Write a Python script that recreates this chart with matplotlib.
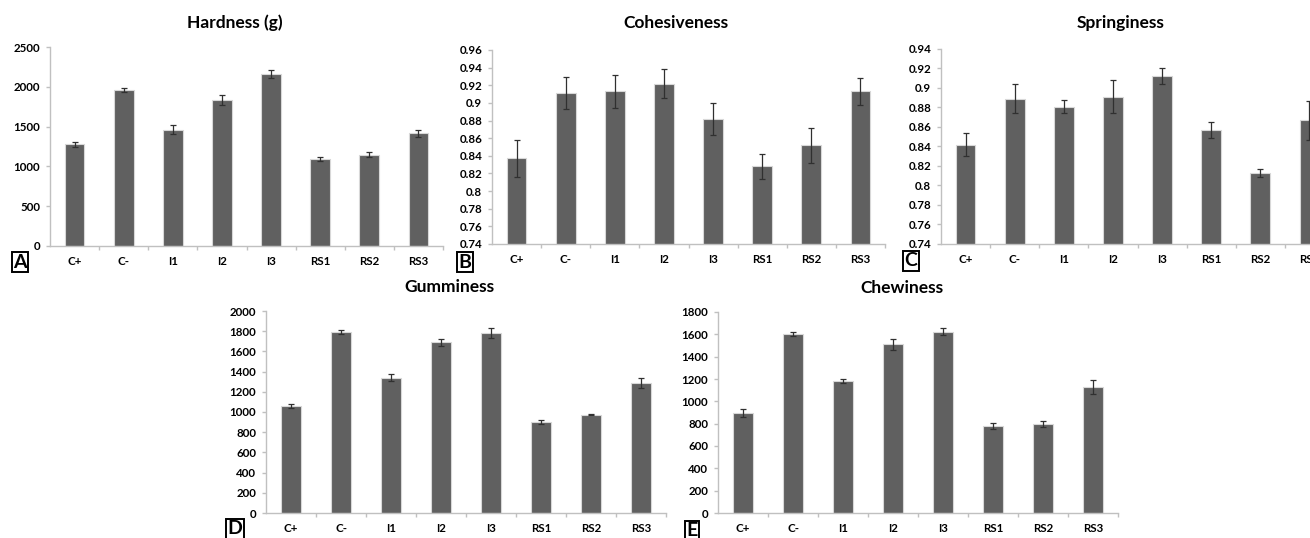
import numpy as np
import matplotlib
matplotlib.use('Agg')
import matplotlib.pyplot as plt
from matplotlib.ticker import FixedLocator, FuncFormatter

plt.rcParams['font.family'] = ['Lato', 'DejaVu Sans']

# Datos de los paneles
categorias = ['C+', 'C-', 'I1', 'I2', 'I3', 'RS1', 'RS2', 'RS3']

hardness = [1278, 1963, 1462, 1838, 2164, 1091, 1149, 1416]
hardness_err = [30, 25, 60, 65, 50, 22, 37, 45]

cohesiveness = [0.837, 0.911, 0.913, 0.922, 0.882, 0.828, 0.852, 0.913]
cohesiveness_err = [0.021, 0.018, 0.019, 0.016, 0.018, 0.014, 0.020, 0.015]

springiness = [0.842, 0.889, 0.881, 0.891, 0.912, 0.857, 0.813, 0.867]
springiness_err = [0.012, 0.015, 0.007, 0.017, 0.008, 0.008, 0.004, 0.020]

gumminess = [1059, 1792, 1337, 1690, 1779, 901, 974, 1287]
gumminess_err = [20, 20, 35, 36, 50, 22, 5, 48]

chewiness = [896, 1600, 1182, 1510, 1624, 779, 797, 1125]
chewiness_err = [32, 18, 18, 48, 33, 27, 30, 63]

W, H = 1310, 538
fig = plt.figure(figsize=(W/100, H/100), dpi=100)

def panel(box, vals, errs, ymin, ymax, step, titulo, tpos, letra, lpos):
    l, r, t, b = box
    ax = fig.add_axes([l/W, 1-b/H, (r-l)/W, (b-t)/H])
    x = np.arange(len(vals))
    ax.bar(x, vals, width=0.4, color='#606060', edgecolor='#d8d8d8',
           linewidth=0.8, yerr=errs,
           error_kw=dict(ecolor='#303030', elinewidth=0.9, capsize=2.2,
                         capthick=0.9))
    ax.set_xlim(-0.5, len(vals)-0.5)
    ax.set_ylim(ymin, ymax)
    ticks = np.arange(ymin, ymax + step/2, step)
    ax.yaxis.set_major_locator(FixedLocator(ticks))
    ax.yaxis.set_major_formatter(FuncFormatter(lambda v, p: '{:g}'.format(round(v, 4))))
    ax.set_xticks(x)
    ax.set_xticklabels(categorias)
    ax.xaxis.set_minor_locator(FixedLocator(np.arange(0.5, len(vals), 1)))
    for s in ['top', 'right']:
        ax.spines[s].set_visible(False)
    for s in ['left', 'bottom']:
        ax.spines[s].set_color('#c0c0c0')
        ax.spines[s].set_linewidth(1)
    ax.tick_params(axis='x', which='major', length=0, pad=7)
    ax.tick_params(axis='x', which='minor', length=3, color='#c0c0c0', width=1)
    ax.tick_params(axis='y', length=3, color='#c0c0c0', width=1, pad=4)
    for lab in ax.get_xticklabels() + ax.get_yticklabels():
        lab.set_fontsize(8.3)
        lab.set_fontweight('bold')
    ax.patch.set_alpha(0)
    fig.text(tpos[0]/W, 1-tpos[1]/H, titulo, ha='center', va='center',
             fontsize=12.5, fontweight='bold')
    fig.text(lpos[0]/W, 1-lpos[1]/H, letra, ha='center', va='center',
             fontsize=14, fontweight='bold',
             bbox=dict(boxstyle='square,pad=0.08', fc='white', ec='black', lw=1.4))
    return ax

panel((50, 443, 47, 246), hardness, hardness_err, 0, 2500, 500,
      'Hardness (g)', (235, 23), 'A', (20, 262))
panel((492, 885, 50, 244), cohesiveness, cohesiveness_err, 0.74, 0.96, 0.02,
      'Cohesiveness', (676, 23), 'B', (465, 262))
panel((941, 1334, 49, 244), springiness, springiness_err, 0.74, 0.94, 0.02,
      'Springiness', (1121, 23), 'C', (911, 261))
panel((266, 666, 311, 513), gumminess, gumminess_err, 0, 2000, 200,
      'Gumminess', (449, 287), 'D', (235, 529))
panel((718, 1118, 312, 513), chewiness, chewiness_err, 0, 1800, 200,
      'Chewiness', (902, 288), 'E', (692, 531))

fig.savefig('out.png', dpi=100)
